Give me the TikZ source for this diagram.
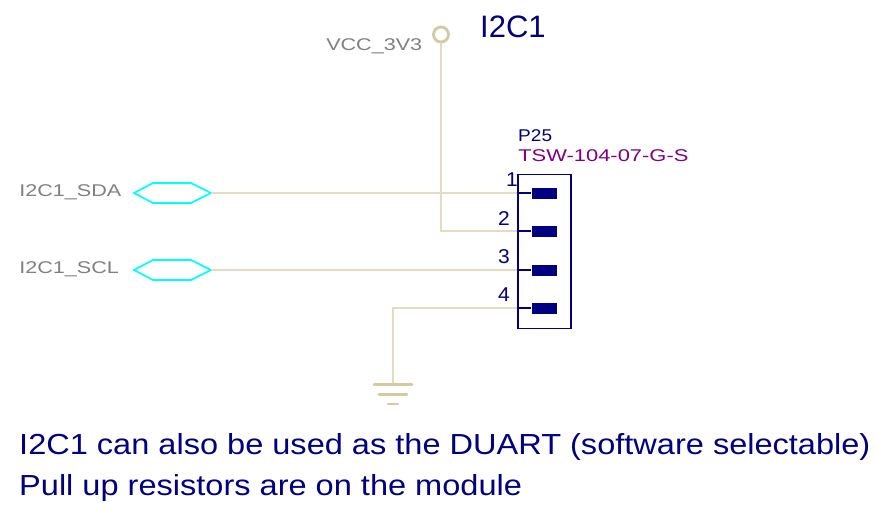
\documentclass[tikz,border=0pt]{standalone}
\usepackage{fontspec}
\setmainfont{Liberation Sans}
\definecolor{wire}{RGB}{214,200,160}
\definecolor{wirelight}{RGB}{228,219,192}
\definecolor{navy}{RGB}{0,0,128}
\definecolor{pnum}{RGB}{128,0,128}
\definecolor{netgray}{RGB}{128,128,128}
\definecolor{portc}{RGB}{0,255,255}
\tikzset{
  wirel/.style={draw=wirelight,line width=1.4pt},
  portl/.style={draw=portc,line width=1.7pt,line join=miter},
  lab/.style={inner sep=0pt,anchor=base west},
  netl/.style={lab,text=netgray,font=\fontsize{17}{17}\selectfont,xscale=1.27},
  pinnum/.style={inner sep=0pt,anchor=base,text=navy,font=\fontsize{20}{20}\selectfont,xscale=1.05},
  note/.style={lab,text=navy,font=\fontsize{29}{29}\selectfont,xscale=1.122},
  pinpad/.style={fill=navy,draw=none,minimum width=25pt,minimum height=11pt,inner sep=0pt},
  gndbar/.style={draw=wire,line width=2.6pt,line cap=round},
}
\begin{document}
\begin{tikzpicture}[x=1pt,y=-1pt]
\useasboundingbox (0,0) rectangle (877,508);
% body
\node[draw=navy,line width=1.7pt,minimum width=53pt,minimum height=154pt,inner sep=0pt,anchor=north west] (body) at (517,173.5) {};
\coordinate (pin1) at (517,193);
\coordinate (pin2) at (517,231);
\coordinate (pin3) at (517,270);
\coordinate (pin4) at (517,308);
\node[draw=wire,line width=2.8pt,circle,minimum size=15pt,inner sep=0pt] (vcc) at (441,34.5) {};
\node[netl] (vccl) at (326,50.5) {VCC\_3V3};
\node[lab,text=navy,font=\fontsize{31}{31}\selectfont] (title) at (480,38) {I2C1};
\draw[wirel] (vcc.south) |- (pin2);
\node[netl] (sdal) at (19,196.5) {I2C1\_SDA};
\node[netl] (scll) at (19,273.5) {I2C1\_SCL};
\coordinate (sdatip) at (211,193);
\coordinate (scltip) at (211,270);
\draw[portl] (134,193) -- (153,183) -- (191,183) -- (sdatip) -- (191,203) -- (153,203) -- cycle;
\draw[portl] (134,270) -- (153,260) -- (191,260) -- (scltip) -- (191,280) -- (153,280) -- cycle;
\draw[wirel] (sdatip) -- (pin1);
\draw[wirel] (scltip) -- (pin3);
\coordinate (gnd) at (393,384.5);
\draw[wirel] (pin4) -| (gnd);
\draw[gndbar] (374,384.5) -- (412,384.5);
\draw[gndbar] (379,394.5) -- (407,394.5);
\draw[gndbar] (388,404) -- (398,404);
% pads
\foreach \n/\y in {1/193,2/231,3/270,4/308}{
  \node[pinpad] (pad\n) at (544,\y) {};
  \draw[navy,line width=1.8pt] (pin\n) -- (pad\n.west);
}
% labels
\node[lab,text=navy,font=\fontsize{17}{17}\selectfont,xscale=1.12] (ref) at (518,141) {P25};
\node[lab,text=pnum,font=\fontsize{17}{17}\selectfont,xscale=1.29] (val) at (518,161) {TSW-104-07-G-S};
\node[pinnum] (n1) at (512,186.5) {1};
\node[pinnum] (n2) at (504,225) {2};
\node[pinnum] (n3) at (504,263) {3};
\node[pinnum] (n4) at (504,301.5) {4};
% notes
\node[note] (n1txt) at (19,454) {I2C1 can also be used as the DUART (software selectable)};
\node[note] (n2txt) at (19,495) {Pull up resistors are on the module};
\end{tikzpicture}
\end{document}
